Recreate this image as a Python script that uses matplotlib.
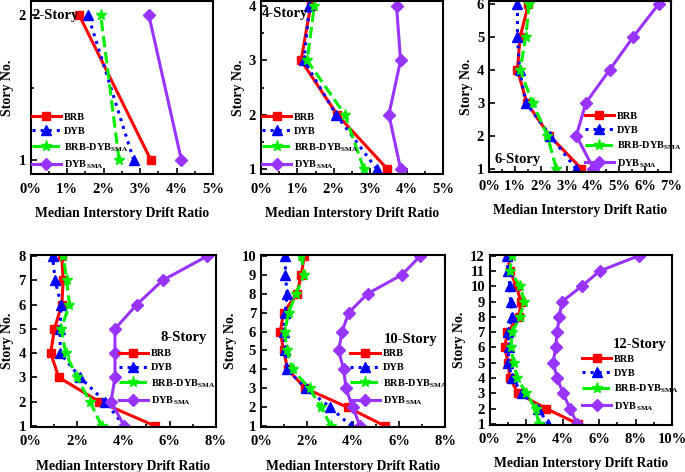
import matplotlib
matplotlib.use("Agg")
import matplotlib.pyplot as plt
from matplotlib.ticker import MultipleLocator, FuncFormatter

plt.rcParams["font.family"] = "Liberation Serif"
plt.rcParams["font.weight"] = "bold"
plt.rcParams["mathtext.fontset"] = "custom"
plt.rcParams["mathtext.rm"] = "Liberation Serif:bold"
plt.rcParams["mathtext.bf"] = "Liberation Serif:bold"

# median interstory drift ratio (%) per story, story 1 first
s2 = [1, 2]
brb2 = [3.29, 1.33]
dyb2 = [2.82, 1.57]
mix2 = [2.42, 1.92]
sma2 = [4.13, 3.24]

s4 = [1, 2, 3, 4]
brb4 = [3.46, 2.09, 1.10, 1.36]
dyb4 = [3.17, 2.06, 1.18, 1.33]
mix4 = [2.82, 2.30, 1.27, 1.46]
sma4 = [3.83, 3.51, 3.83, 3.72]

s6 = [1, 2, 3, 4, 5, 6]
brb6 = [3.54, 2.32, 1.45, 1.09, 1.19, 1.51]
dyb6 = [3.33, 2.35, 1.41, 1.17, 1.09, 1.09]
mix6 = [2.58, 2.24, 1.67, 1.19, 1.41, 1.54]
sma6 = [4.01, 3.35, 3.72, 4.63, 5.53, 6.51]

s8 = [1, 2, 3, 4, 5, 6, 7, 8]
brb8 = [5.37, 2.96, 1.21, 0.86, 1.02, 1.34, 1.40, 1.34]
dyb8 = [4.04, 3.21, 2.13, 1.27, 1.27, 1.31, 1.05, 0.94]
mix8 = [3.06, 2.56, 1.99, 1.51, 1.31, 1.67, 1.55, 1.41]
sma8 = [4.04, 3.47, 3.64, 3.64, 3.64, 4.58, 5.70, 7.63]

s10 = [1, 2, 3, 4, 5, 6, 7, 8, 9, 10]
brb10 = [5.40, 3.76, 1.92, 1.16, 0.98, 0.84, 0.98, 1.56, 1.75, 1.88]
dyb10 = [3.92, 3.01, 1.95, 1.13, 1.06, 0.98, 1.06, 1.13, 1.06, 1.06]
mix10 = [3.05, 2.60, 2.11, 1.37, 1.13, 1.03, 1.20, 1.52, 1.88, 1.75]
sma10 = [4.31, 3.98, 3.69, 3.59, 3.37, 3.52, 3.81, 4.63, 6.12, 6.92]

s12 = [1, 2, 3, 4, 5, 6, 7, 8, 9, 10, 11, 12]
brb12 = [4.85, 3.11, 1.56, 1.10, 1.01, 0.82, 0.97, 1.61, 1.70, 1.47, 1.10, 1.01]
dyb12 = [3.21, 2.66, 1.79, 1.23, 1.01, 1.04, 1.01, 1.23, 1.14, 1.10, 1.01, 0.92]
mix12 = [2.69, 2.51, 2.01, 1.50, 1.32, 1.15, 1.23, 1.65, 1.89, 1.68, 1.10, 1.23]
sma12 = [4.80, 4.40, 4.03, 3.70, 3.48, 3.61, 3.70, 3.81, 3.97, 5.04, 6.04, 8.19]

labels = ["BRB", "DYB", r"BRB-DYB$_\mathbf{SMA}$", r"DYB$_\mathbf{SMA}$"]
colors = ["#ff0000", "#0000ff", "#00ee00", "#9933ff"]
styles = ["-", ":", "--", "-"]
markers = ["s", "^", "*", "D"]
msizes = [6, 6.5, 8, 6]

fig = plt.figure(figsize=(6.85, 4.72), dpi=100)

panels = [
    # rect, stories, series, xmax, xmajor, xminor, ylim, yminor, title, title pos, legend anchor
    ([0.045, 0.631, 0.266, 0.367], s2, [brb2, dyb2, mix2, sma2], 5, 1, 0.5,
     (0.9, 2.1), 0.5, "2-Story", (0.01, 0.915, "left"), (0.0, 0.36)),
    ([0.381, 0.631, 0.266, 0.367], s4, [brb4, dyb4, mix4, sma4], 5, 1, 0.5,
     (0.9, 4.1), 0.5, "4-Story", (0.005, 0.93, "left"), (0.0, 0.36)),
    ([0.714, 0.636, 0.266, 0.362], s6, [brb6, dyb6, mix6, sma6], 7, 1, 0.5,
     (0.9, 6.1), None, "6-Story", (0.03, 0.07, "left"), (0.52, 0.36)),
    ([0.045, 0.095, 0.270, 0.365], s8, [brb8, dyb8, mix8, sma8], 8, 2, 1,
     (0.95, 8.05), None, "8-Story", (0.95, 0.52, "right"), (0.47, 0.46)),
    ([0.381, 0.095, 0.269, 0.365], s10, [brb10, dyb10, mix10, sma10], 8, 2, 1,
     (0.95, 10.05), None, "10-Story", (0.96, 0.51, "right"), (0.48, 0.46)),
    ([0.715, 0.100, 0.266, 0.360], s12, [brb12, dyb12, mix12, sma12], 10, 2, 1,
     (0.95, 12.05), None, "12-Story", (0.97, 0.47, "right"), (0.50, 0.42)),
]

for rect, st, series, xmax, xmaj, xmin, ylim, ymin, title, tpos, lpos in panels:
    ax = fig.add_axes(rect)
    for vals, lab, c, ls, mk, ms in zip(series, labels, colors, styles, markers, msizes):
        ax.plot(vals, st, color=c, linestyle=ls, marker=mk, markersize=ms,
                linewidth=2.2, label=lab)
    ax.set_xlim(0, xmax)
    ax.set_ylim(*ylim)
    ax.xaxis.set_major_locator(MultipleLocator(xmaj))
    ax.xaxis.set_minor_locator(MultipleLocator(xmin))
    ax.xaxis.set_major_formatter(FuncFormatter(lambda v, p: "%d%%" % round(v)))
    ax.yaxis.set_major_locator(MultipleLocator(1))
    if ymin:
        ax.yaxis.set_minor_locator(MultipleLocator(ymin))
    ax.tick_params(which="both", direction="in", labelsize=10.5, width=1.2)
    ax.tick_params(which="major", length=4)
    ax.tick_params(which="minor", length=2.5)
    ax.tick_params(axis="x", pad=6)
    for sp in ax.spines.values():
        sp.set_linewidth(1.5)
    ax.set_ylabel("Story No.", fontsize=10, fontweight="bold", labelpad=3)
    ax.set_xlabel("Median Interstory Drift Ratio", fontsize=9.8,
                  fontweight="bold", labelpad=8)
    ax.text(tpos[0], tpos[1], title, transform=ax.transAxes, ha=tpos[2],
            va="center", fontsize=10.5, fontweight="bold")
    ax.legend(loc="upper left", bbox_to_anchor=lpos, frameon=False,
              fontsize=7.5, handlelength=2.8, handletextpad=0.3,
              labelspacing=0.45, borderpad=0.1, borderaxespad=0, numpoints=1)

fig.savefig("out.png", dpi=100)
